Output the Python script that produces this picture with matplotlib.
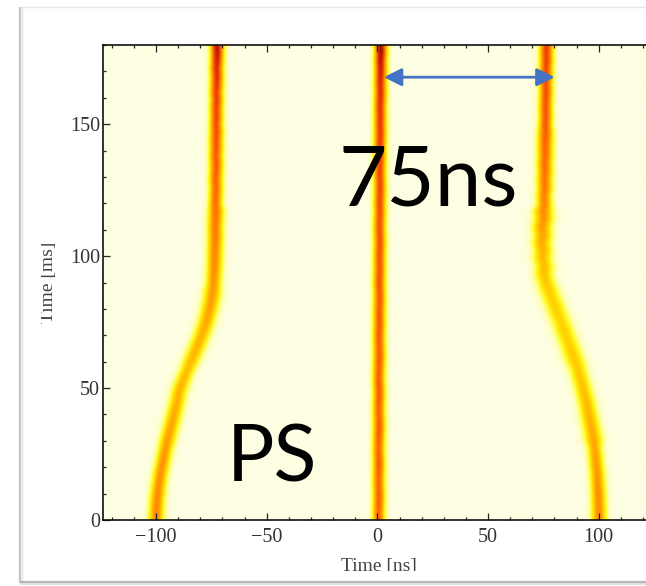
import numpy as np
import matplotlib
matplotlib.use("Agg")
import matplotlib.pyplot as plt
from matplotlib.colors import LinearSegmentedColormap
from matplotlib.ticker import MultipleLocator
from matplotlib.patches import Rectangle
from matplotlib.lines import Line2D

# turn number, one profile every 3 ms
t_ms = np.arange(0, 181, 3)

# bunch centre [ns] per profile
left_pos = [-100.0, -99.9, -99.7, -99.4, -99.0, -98.5, -97.9, -97.2, -96.5, -95.7,
            -94.9, -94.0, -93.1, -92.2, -91.3, -90.5, -89.8, -88.7, -87.3, -85.8,
            -84.3, -82.8, -81.3, -79.9, -78.6, -77.4, -76.4, -75.6, -74.9, -74.4,
            -74.0, -73.8, -73.6, -73.5, -73.4, -73.3, -73.2, -73.3, -73.1, -73.0,
            -73.2, -73.0, -72.9, -73.1, -72.9, -72.8, -73.0, -72.8, -72.9, -72.7,
            -72.9, -72.7, -72.8, -72.6, -72.8, -72.6, -72.5, -72.7, -72.5, -72.4,
            -72.5]
mid_pos = [0.6, 0.5, 0.6, 0.7, 0.6, 0.5, 0.6, 0.7, 0.6, 0.5,
           0.6, 0.7, 0.8, 0.7, 0.6, 0.7, 0.8, 0.7, 0.6, 0.7,
           0.8, 0.9, 0.8, 0.7, 0.8, 0.9, 0.8, 0.9, 1.0, 0.9,
           0.8, 0.9, 1.0, 0.9, 1.0, 1.1, 1.0, 0.9, 1.0, 1.1,
           1.0, 1.1, 1.2, 1.1, 1.0, 1.1, 1.2, 1.1, 1.2, 1.3,
           1.2, 1.3, 1.2, 1.3, 1.4, 1.3, 1.4, 1.5, 1.4, 1.6,
           1.5]
right_pos = [100.1, 100.1, 100.0, 99.9, 99.7, 99.5, 99.3, 98.9, 98.6, 98.2,
             97.8, 97.2, 96.5, 95.8, 95.1, 94.4, 93.5, 92.6, 91.6, 90.6,
             89.4, 88.1, 86.9, 85.6, 84.3, 83.0, 81.6, 80.3, 78.9, 77.5,
             76.2, 75.2, 75.5, 74.6, 74.9, 74.2, 74.8, 74.4, 75.2, 74.9,
             75.5, 75.3, 75.7, 75.5, 75.8, 75.6, 75.9, 75.8, 75.9, 76.0,
             75.9, 76.1, 76.0, 76.1, 76.2, 76.1, 76.3, 76.2, 76.4, 76.3,
             76.5]

# peak line density (normalised)
left_amp = [0.56, 0.56, 0.55, 0.55, 0.54, 0.54, 0.53, 0.53, 0.52, 0.51,
            0.50, 0.49, 0.48, 0.47, 0.46, 0.45, 0.44, 0.44, 0.43, 0.43,
            0.43, 0.44, 0.44, 0.45, 0.46, 0.47, 0.48, 0.49, 0.50, 0.51,
            0.52, 0.53, 0.54, 0.55, 0.56, 0.57, 0.58, 0.59, 0.60, 0.61,
            0.62, 0.63, 0.64, 0.65, 0.66, 0.67, 0.67, 0.68, 0.69, 0.70,
            0.71, 0.72, 0.73, 0.74, 0.75, 0.77, 0.79, 0.81, 0.84, 0.87,
            0.90]
mid_amp = [0.64, 0.64, 0.65, 0.65, 0.64, 0.64, 0.65, 0.66, 0.65, 0.64,
           0.65, 0.66, 0.66, 0.65, 0.65, 0.66, 0.66, 0.67, 0.66, 0.66,
           0.67, 0.67, 0.66, 0.67, 0.67, 0.68, 0.68, 0.67, 0.68, 0.68,
           0.69, 0.69, 0.68, 0.69, 0.69, 0.70, 0.70, 0.69, 0.70, 0.70,
           0.71, 0.71, 0.72, 0.72, 0.73, 0.73, 0.74, 0.74, 0.75, 0.76,
           0.76, 0.77, 0.78, 0.79, 0.80, 0.81, 0.83, 0.85, 0.88, 0.91,
           0.94]
right_amp = [0.55, 0.55, 0.54, 0.54, 0.53, 0.52, 0.51, 0.50, 0.49, 0.48,
             0.47, 0.46, 0.45, 0.44, 0.43, 0.42, 0.41, 0.40, 0.39, 0.39,
             0.38, 0.38, 0.37, 0.37, 0.37, 0.36, 0.36, 0.37, 0.37, 0.38,
             0.39, 0.40, 0.41, 0.42, 0.44, 0.46, 0.48, 0.50, 0.52, 0.54,
             0.56, 0.57, 0.59, 0.60, 0.61, 0.62, 0.63, 0.64, 0.65, 0.66,
             0.67, 0.68, 0.68, 0.69, 0.70, 0.70, 0.71, 0.72, 0.73, 0.74,
             0.75]

# rms bunch length [ns]
left_sig = [2.4] * 10 + [2.6] * 10 + [2.8] * 10 + [2.5] * 10 + [2.2] * 10 + [2.1] * 11
mid_sig = [2.0] * 61
right_sig = [2.4] * 10 + [2.9] * 10 + [3.3] * 10 + [3.1] * 10 + [2.5] * 10 + [2.2] * 11

xlim = (-124, 125)
ylim = (0, 180)

W, H = 646, 586


def fpx(x, y):
    # figure fraction from pixel position measured from the top-left
    return x / W, 1 - y / H


cmap = LinearSegmentedColormap.from_list(
    "mountain",
    [(0.0, "#fefee3"), (0.10, "#ffffa8"), (0.20, "#ffff30"), (0.33, "#ffdc00"),
     (0.48, "#ffa400"), (0.62, "#ff7000"), (0.76, "#ec3a00"), (0.89, "#b81a00"),
     (1.0, "#401000")])

x_ns = np.arange(-125, 126.01, 0.25)
profiles = np.zeros((len(t_ms), len(x_ns)))
for pos, amp, sig in [(left_pos, left_amp, left_sig),
                      (mid_pos, mid_amp, mid_sig),
                      (right_pos, right_amp, right_sig)]:
    pos = np.asarray(pos)[:, None]
    amp = np.asarray(amp)[:, None]
    sig = np.asarray(sig)[:, None]
    profiles += amp * np.exp(-0.5 * ((x_ns[None, :] - pos) / sig) ** 2)

fig = plt.figure(figsize=(W / 100, H / 100), dpi=100)
fig.patch.set_facecolor("white")

ax = fig.add_axes([103 / W, 66 / H, 551 / W, 475 / H])
ax.imshow(profiles, cmap=cmap, vmin=0, vmax=1, origin="lower", aspect="auto",
          interpolation="bilinear",
          extent=[x_ns[0] - 0.125, x_ns[-1] + 0.125, t_ms[0] - 1.5, t_ms[-1] + 1.5])
ax.set_xlim(*xlim)
ax.set_ylim(*ylim)

serif = "Liberation Serif"
ax.xaxis.set_major_locator(MultipleLocator(50))
ax.xaxis.set_minor_locator(MultipleLocator(10))
ax.yaxis.set_major_locator(MultipleLocator(50))
ax.yaxis.set_minor_locator(MultipleLocator(10))
ax.tick_params(which="both", direction="in", top=True, right=True,
               width=0.9, colors="#222222", labelcolor="#333333")
ax.tick_params(which="major", length=5, labelsize=14.5)
ax.tick_params(which="minor", length=2.5)
ax.tick_params(axis="x", pad=6)
ax.tick_params(axis="y", pad=2)
for lab in ax.get_xticklabels() + ax.get_yticklabels():
    lab.set_fontfamily(serif)
for sp in ax.spines.values():
    sp.set_linewidth(1.2)
    sp.set_color("#111111")

ax.set_xlabel("Time [ns]", fontfamily=serif, fontsize=14, color="#444444")
ax.set_ylabel("Time [ms]", fontfamily=serif, fontsize=14, color="#444444")
ax.xaxis.set_label_coords(0.5, -0.079)
ax.yaxis.set_label_coords(-0.0835, 0.5)

# bunch spacing marker
ax.annotate("", xy=(2.9, 167.8), xytext=(80.1, 167.8),
            arrowprops=dict(arrowstyle="<|-|>,head_length=1.0,head_width=0.5",
                            mutation_scale=10.8, color="#4472c4", lw=2,
                            shrinkA=0, shrinkB=0))
ax.text(-17.5, 119, "75ns", fontfamily="Lato", fontsize=60, color="black",
        ha="left", va="baseline")
ax.text(-68, 14.5, "PS", fontfamily="Lato", fontsize=57, color="black",
        ha="left", va="baseline")

# crop of the pasted picture
fig.add_artist(Rectangle((0, 0), 41 / W, 1, transform=fig.transFigure,
                         facecolor="white", edgecolor="none", zorder=5))
fig.add_artist(Rectangle((0, 0), 1, 15 / H, transform=fig.transFigure,
                         facecolor="white", edgecolor="none", zorder=5))

# picture border with a soft shadow
for (xa, ya, xb, yb, c, lw) in [
        (20, 7, 20, 583, "#c4c4c4", 1.6),
        (21.5, 8, 21.5, 582, "#e4e4e4", 1.0),
        (20, 7, 646, 7, "#e6e6e6", 1.0),
        (20, 581.5, 646, 581.5, "#b8b8b8", 1.6),
        (20, 583.5, 646, 583.5, "#dcdcdc", 1.2)]:
    xs, ys = zip(fpx(xa, ya), fpx(xb, yb))
    fig.add_artist(Line2D(xs, ys, transform=fig.transFigure, color=c, lw=lw,
                          zorder=6, solid_capstyle="butt"))

fig.savefig("out.png", dpi=100)
